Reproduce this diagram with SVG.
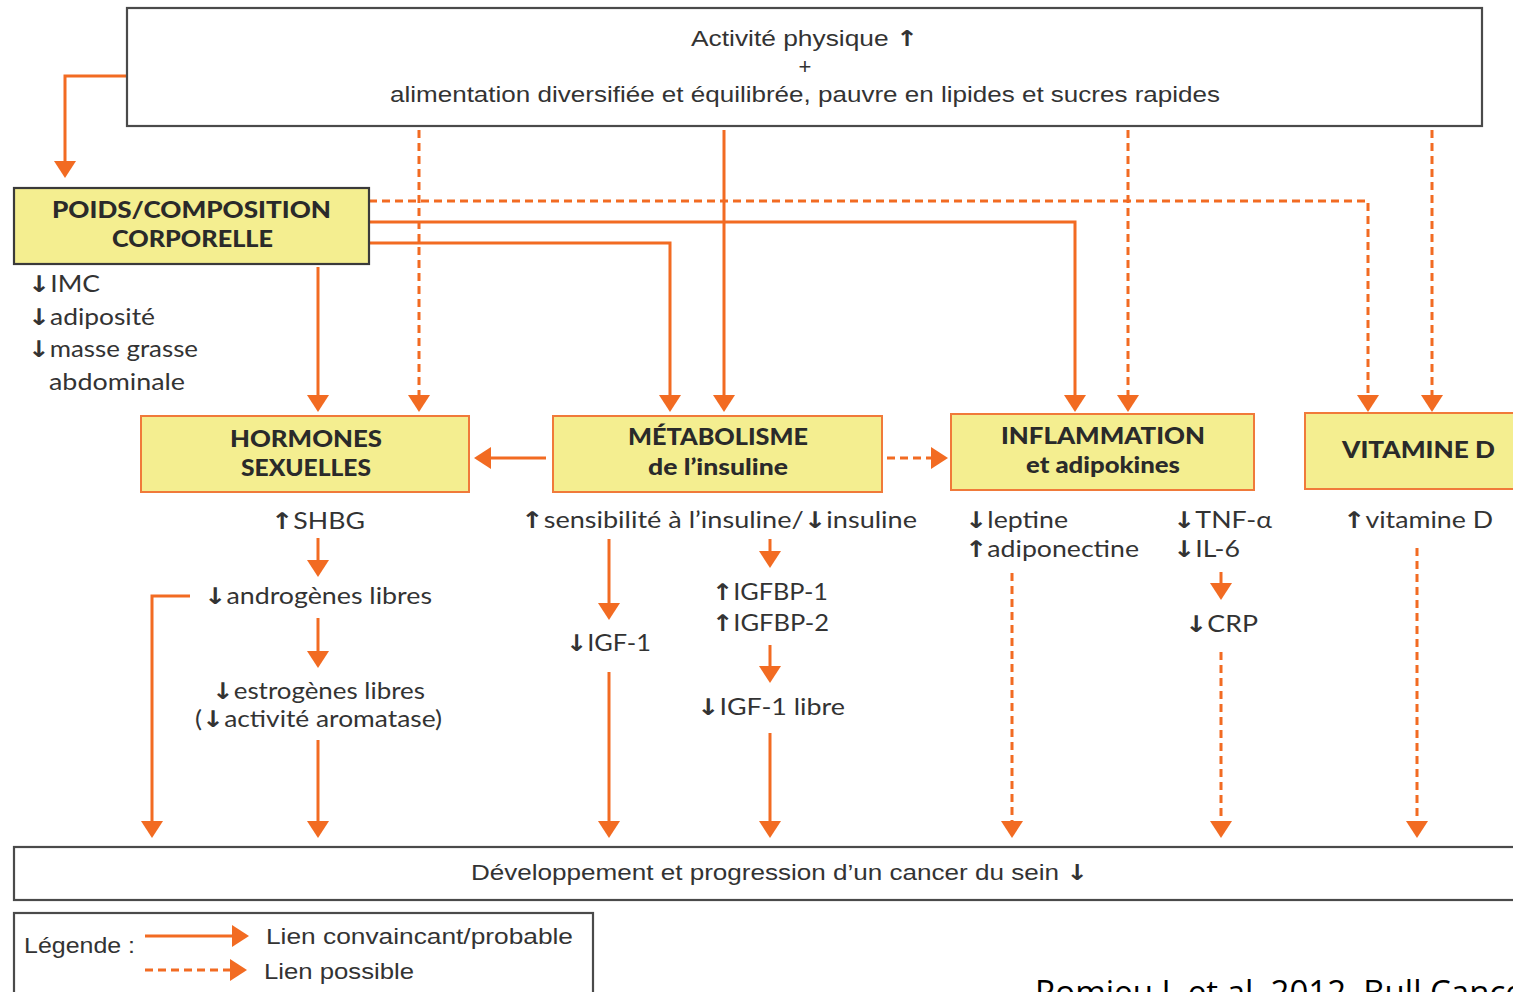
<svg xmlns="http://www.w3.org/2000/svg" width="1513" height="992" viewBox="0 0 1513 992">
<style>
.bg{fill:#ffffff}
.frame{fill:#ffffff;stroke:#4a4a4a;stroke-width:2.2}
.ybox{fill:#F4EE90;stroke:#F07A3A;stroke-width:2}
.ybox2{fill:#F4EE90;stroke:#3a3a3a;stroke-width:2.2}
.ln{fill:none;stroke:#F26B22;stroke-width:3}
.sol{marker-end:url(#ah)}
.dsh{stroke-dasharray:8,5;marker-end:url(#ah)}
.cond{font-family:"Liberation Sans Narrow","Liberation Sans",Arial,sans-serif;font-size:22px;fill:#333}
.t{font-family:Lato,"Liberation Sans",sans-serif;font-size:23px;fill:#333}
.b{font-family:Lato,"Liberation Sans",sans-serif;font-size:23px;font-weight:900;fill:#2a2a2a}
.ar{font-family:"DejaVu Sans",sans-serif;font-weight:bold}
.mid{text-anchor:middle}
.cite{font-family:"Open Sans","Liberation Sans",sans-serif;font-size:33px;fill:#000}
</style>
<defs>
<marker id="ah" markerUnits="userSpaceOnUse" markerWidth="17" markerHeight="22" viewBox="0 0 17 22" refX="1" refY="11" orient="auto">
<path d="M0,0 L17,11 L0,22 z" fill="#F26B22"/>
</marker>
</defs>
<rect class="bg" x="0" y="0" width="1513" height="992"/>

<g id="connectors">
<path class="ln sol" d="M127,76 H65 V162"/>
<path class="ln dsh" d="M419,130 V396"/>
<path class="ln sol" d="M724,130 V396"/>
<path class="ln dsh" d="M1128,130 V396"/>
<path class="ln dsh" d="M1432,130 V396"/>
<path class="ln dsh" d="M369,201 H1368 V396"/>
<path class="ln sol" d="M369,222 H1075 V396"/>
<path class="ln sol" d="M369,243 H670 V396"/>
<path class="ln sol" d="M318,267 V396"/>
<path class="ln sol" d="M546,458 H490"/>
<path class="ln dsh" d="M887,458 H932"/>
<path class="ln sol" d="M318,538 V561"/>
<path class="ln sol" d="M190,596 H152 V822"/>
<path class="ln sol" d="M318,618 V652"/>
<path class="ln sol" d="M318,740 V822"/>
<path class="ln sol" d="M609,539 V604"/>
<path class="ln sol" d="M609,672 V822"/>
<path class="ln sol" d="M770,539 V552"/>
<path class="ln sol" d="M770,645 V667"/>
<path class="ln sol" d="M770,733 V822"/>
<path class="ln dsh" d="M1012,573 V822"/>
<path class="ln sol" d="M1221,572 V584"/>
<path class="ln dsh" d="M1221,652 V822"/>
<path class="ln dsh" d="M1417,548 V822"/>
</g>

<g id="top-box">
<rect class="frame" x="127" y="8" width="1355" height="118"/>
<text class="cond" x="691" y="46" textLength="227" lengthAdjust="spacingAndGlyphs">Activité physique <tspan class="ar">↑</tspan></text>
<text class="cond mid" x="805" y="74">+</text>
<text class="cond" x="390" y="102" textLength="830" lengthAdjust="spacingAndGlyphs">alimentation diversifiée et équilibrée, pauvre en lipides et sucres rapides</text>
</g>

<g id="poids">
<rect class="ybox2" x="14" y="188" width="355" height="76"/>
<text class="b" x="52" y="218" textLength="279" lengthAdjust="spacingAndGlyphs">POIDS/COMPOSITION</text>
<text class="b" x="112" y="247" textLength="161" lengthAdjust="spacingAndGlyphs">CORPORELLE</text>
<text class="t" x="28" y="292" textLength="72" lengthAdjust="spacingAndGlyphs"><tspan class="ar">↓</tspan>IMC</text>
<text class="t" x="28" y="325" textLength="127" lengthAdjust="spacingAndGlyphs"><tspan class="ar">↓</tspan>adiposité</text>
<text class="t" x="28" y="357" textLength="170" lengthAdjust="spacingAndGlyphs"><tspan class="ar">↓</tspan>masse grasse</text>
<text class="t" x="49" y="390" textLength="136" lengthAdjust="spacingAndGlyphs">abdominale</text>
</g>

<g id="hormones">
<rect class="ybox" x="141" y="416" width="328" height="76"/>
<text class="b" x="230" y="447" textLength="152" lengthAdjust="spacingAndGlyphs">HORMONES</text>
<text class="b" x="241" y="476" textLength="130" lengthAdjust="spacingAndGlyphs">SEXUELLES</text>
<text class="t" x="271" y="529" textLength="94" lengthAdjust="spacingAndGlyphs"><tspan class="ar">↑</tspan>SHBG</text>
<text class="t" x="204" y="604" textLength="228" lengthAdjust="spacingAndGlyphs"><tspan class="ar">↓</tspan>androgènes libres</text>
<text class="t" x="212" y="699" textLength="213" lengthAdjust="spacingAndGlyphs"><tspan class="ar">↓</tspan>estrogènes libres</text>
<text class="t" x="195" y="727" textLength="247" lengthAdjust="spacingAndGlyphs">(<tspan class="ar">↓</tspan>activité aromatase)</text>
</g>

<g id="metabolisme">
<rect class="ybox" x="553" y="416" width="329" height="76"/>
<text class="b" x="628" y="445" textLength="180" lengthAdjust="spacingAndGlyphs">MÉTABOLISME</text>
<text class="b" x="648" y="475" textLength="140" lengthAdjust="spacingAndGlyphs">de l’insuline</text>
<text class="t" x="521" y="528" textLength="396" lengthAdjust="spacingAndGlyphs"><tspan class="ar">↑</tspan>sensibilité à l’insuline/<tspan class="ar">↓</tspan>insuline</text>
<text class="t" x="566" y="651" textLength="85" lengthAdjust="spacingAndGlyphs"><tspan class="ar">↓</tspan>IGF-1</text>
<text class="t" x="712" y="600" textLength="116" lengthAdjust="spacingAndGlyphs"><tspan class="ar">↑</tspan>IGFBP-1</text>
<text class="t" x="712" y="631" textLength="117" lengthAdjust="spacingAndGlyphs"><tspan class="ar">↑</tspan>IGFBP-2</text>
<text class="t" x="697" y="715" textLength="148" lengthAdjust="spacingAndGlyphs"><tspan class="ar">↓</tspan>IGF-1 libre</text>
</g>

<g id="inflammation">
<rect class="ybox" x="951" y="414" width="303" height="76"/>
<text class="b" x="1001" y="444" textLength="204" lengthAdjust="spacingAndGlyphs">INFLAMMATION</text>
<text class="b" x="1026" y="473" textLength="154" lengthAdjust="spacingAndGlyphs">et adipokines</text>
<text class="t" x="965" y="528" textLength="103" lengthAdjust="spacingAndGlyphs"><tspan class="ar">↓</tspan>leptine</text>
<text class="t" x="965" y="557" textLength="174" lengthAdjust="spacingAndGlyphs"><tspan class="ar">↑</tspan>adiponectine</text>
<text class="t" x="1173" y="528" textLength="99" lengthAdjust="spacingAndGlyphs"><tspan class="ar">↓</tspan>TNF-α</text>
<text class="t" x="1173" y="557" textLength="67" lengthAdjust="spacingAndGlyphs"><tspan class="ar">↓</tspan>IL-6</text>
<text class="t" x="1185" y="632" textLength="73" lengthAdjust="spacingAndGlyphs"><tspan class="ar">↓</tspan>CRP</text>
</g>

<g id="vitamine-d">
<rect class="ybox" x="1305" y="413" width="220" height="76"/>
<text class="b" x="1342" y="458" textLength="153" lengthAdjust="spacingAndGlyphs">VITAMINE D</text>
<text class="t" x="1343" y="528" textLength="150" lengthAdjust="spacingAndGlyphs"><tspan class="ar">↑</tspan>vitamine D</text>
</g>

<g id="outcome">
<rect class="frame" x="14" y="847" width="1510" height="53"/>
<text class="cond" x="471" y="880" textLength="617" lengthAdjust="spacingAndGlyphs">Développement et progression d’un cancer du sein <tspan class="ar">↓</tspan></text>
</g>

<g id="legend">
<rect class="frame" x="14" y="913" width="579" height="90"/>
<text class="cond" x="24" y="953" textLength="111" lengthAdjust="spacingAndGlyphs">Légende :</text>
<path class="ln sol" d="M145,936 H233"/>
<path class="ln dsh" d="M145,970 H231"/>
<text class="cond" x="266" y="944" textLength="307" lengthAdjust="spacingAndGlyphs">Lien convaincant/probable</text>
<text class="cond" x="264" y="979" textLength="150" lengthAdjust="spacingAndGlyphs">Lien possible</text>
</g>

<text class="cite" x="1035" y="1004">Romieu I, et al. 2012. Bull Cancer</text>
</svg>
